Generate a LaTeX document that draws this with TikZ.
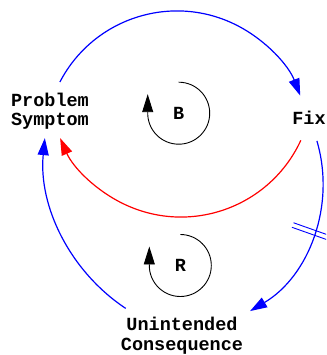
\documentclass[tikz,border=0pt]{standalone}
\usepackage{fontspec}
\newfontfamily\diagfont{Liberation Mono}
\usetikzlibrary{arrows.meta,calc}
\begin{document}
\begin{tikzpicture}[x=1pt,y=1pt,
  every node/.style={font=\diagfont\bfseries\fontsize{18.5}{19.3}\selectfont,
    align=center, inner sep=0pt},
  link/.style={line width=1.2pt, -{Triangle[length=17pt,width=11pt]}},
  poslink/.style={link, blue},
  neglink/.style={link, red},
  loopline/.style={line width=0.9pt, black, -{Triangle[length=18pt,width=11pt]}},
  delaymark/.style={line width=0.9pt, blue}]
\path[use as bounding box] (0,0) rectangle (326,355);
\clip (0,0) rectangle (326,355);

% variables
\node (ps) at (50,243.6) {Problem\\Symptom};
\node (fix) at (309,237.4) {Fix};
\node (uc) at (182,19.3) {Unintended\\Consequence};

% loop identifiers
\node (b) at (178.7,241.8) {B};
\node (r) at (180.3,89.5) {R};

% start points of the causal links, next to their source variables
\coordinate (ps-fix) at (59.9,273);
\coordinate (fix-ps) at (300.8,214.6);
\coordinate (fix-uc) at (316.9,214.1);
\coordinate (uc-ps) at (125.7,46.6);

% balancing loop: symptom -> fix -> symptom
\draw[poslink] (ps-fix) arc[start angle=152.5, end angle=21, radius=132pt];
\draw[neglink] (fix-ps) arc[start angle=-24.8, end angle=-156.3, radius=132pt];

% reinforcing loop: fix -> unintended consequence -> symptom
\draw[poslink] (fix-uc) arc[start angle=16.4, end angle=-59.3, radius=149pt];
\draw[poslink] (uc-ps) arc[start angle=-123.6, end angle=-185.6, radius=183pt];

% delay mark on the fix -> consequence link
\begin{scope}[shift={(314.4,122.3)}, rotate=-19.5]
  \draw[delaymark] (-23,2.4) -- (26,2.4);
  \draw[delaymark] (-23,-2.4) -- (26,-2.4);
\end{scope}

% loop direction arrows
\draw[loopline] (b.center) ++(0,31) arc[start angle=90, end angle=-180, radius=31pt] -- ++(0,19);
\draw[loopline] (r.center) ++(0,31) arc[start angle=90, end angle=-180, radius=31pt] -- ++(0,19);
\end{tikzpicture}
\end{document}
